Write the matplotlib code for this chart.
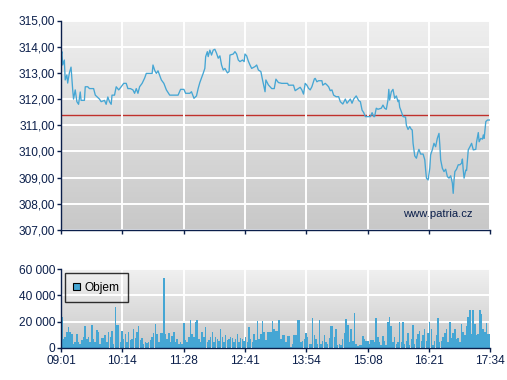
import numpy as np
import matplotlib
matplotlib.use("Agg")
import matplotlib.pyplot as plt
from matplotlib.patches import Patch
from matplotlib.ticker import FuncFormatter

plt.rcParams['font.family'] = ['Liberation Sans', 'DejaVu Sans']

# ---- data ----
tick_labels = ["09:01", "10:14", "11:28", "12:41", "13:54", "15:08", "16:21", "17:34"]

price_t = [0, 1, 2, 4, 5, 7, 8, 10, 12, 14, 15, 17, 19, 21, 23, 24, 28, 29, 32, 34,
           39, 41, 46, 48, 52, 54, 56, 58, 60, 61, 64, 66, 69, 72, 75, 78, 80, 83, 86, 88,
           90, 92, 94, 97, 100, 102, 109, 110, 112, 114, 116, 120, 123, 126, 130,
           132, 136, 140, 143, 147, 149, 154, 156, 159, 162, 164, 166, 168, 170, 172, 173,
           175, 176, 178, 180, 182, 184, 186, 188, 190, 192, 194, 196, 199, 201, 202, 206,
           208, 210, 212, 214, 217, 219, 220, 222, 224, 226, 228, 232, 234, 236, 239, 241,
           244, 245, 248, 252, 255, 257,
           260, 264, 268, 271, 272, 278, 280, 284, 286, 288, 290, 292, 294, 296, 298, 300,
           303, 304, 306, 308, 312, 313, 316, 318, 320, 322, 324, 326, 329, 332, 334, 337,
           340, 342, 346, 348, 350, 353, 356, 358, 360, 362, 364, 366, 370, 372, 374, 375,
           377, 379, 383, 385, 387, 389, 391, 392, 393, 395, 397, 399, 401, 403, 404, 405,
           407, 409, 412, 413, 415, 417, 419, 420, 421, 423, 425, 427, 428, 430, 433, 435,
           436, 437, 439, 441, 442, 444, 446, 448, 450, 452, 453, 454, 456, 458, 460, 462,
           464, 466, 468, 469, 470, 471, 473, 475, 477, 479, 480, 481, 482, 484, 485, 487,
           489, 491, 493, 496, 497, 499, 500, 502, 504, 505, 506, 508, 510, 513]

price = [313.62, 313.81, 313.30, 313.49, 312.73, 312.92, 312.61, 313.00, 313.22, 312.35,
         312.00, 312.35, 311.90, 311.80, 312.27, 311.95, 311.95, 312.47, 312.47, 312.40,
         312.40, 312.15, 312.00, 311.90, 311.95, 311.80, 312.08, 311.90, 311.80, 312.15,
         312.15, 312.47, 312.35, 312.47, 312.60, 312.60, 312.40, 312.40, 312.35, 312.22,
         312.40, 312.22, 312.47, 312.60, 312.80, 312.98, 312.98, 313.30, 313.10, 312.98,
         313.08, 312.73, 312.60, 312.35, 312.15,
         312.15, 312.15, 312.15, 312.37, 312.37, 312.22, 312.22, 312.28, 312.03, 312.12,
         312.40, 312.63, 312.80, 312.98, 313.17, 313.62, 313.81, 313.62, 313.87, 313.68,
         313.87, 313.90, 313.75, 313.56, 313.65, 313.30, 313.11, 313.17, 313.00, 313.05,
         313.68, 313.72, 313.81, 313.72, 313.49, 313.43, 313.49, 313.43, 313.72, 313.65,
         313.45, 313.30, 313.17, 313.24, 313.30, 313.11, 313.05, 312.73, 312.28, 312.73,
         312.54, 312.40, 312.40, 312.76,
         312.63, 312.60, 312.60, 312.60, 312.53, 312.53, 312.32, 312.41, 312.45, 312.35,
         312.19, 312.60, 312.53, 312.41, 312.35, 312.47, 312.77, 312.79, 312.66, 312.70,
         312.70, 312.53, 312.60, 312.54, 312.47, 312.32, 312.35, 312.15, 312.09, 312.09,
         311.90, 311.81, 312.00, 311.84, 312.00, 311.84, 312.00, 312.12, 311.94, 311.90,
         311.58, 311.48, 311.33, 311.33, 311.33, 311.48, 311.33, 311.33,
         311.65, 311.61, 311.65, 311.77, 311.65, 311.61, 311.96, 312.37, 311.96, 312.28,
         312.37, 312.03, 312.12, 311.90, 311.96, 311.69, 311.52, 311.33, 311.31, 311.00,
         310.84, 310.95, 310.84, 310.82, 310.31, 309.83, 309.74, 309.99, 310.08, 309.90,
         309.90, 309.68, 309.30, 308.98, 308.91, 309.36, 309.87, 310.06, 310.31, 310.18,
         310.50, 310.69, 310.25, 309.68, 309.36, 309.23, 309.32, 309.04, 308.98, 309.07,
         308.79, 308.40, 308.91, 309.23, 309.32, 309.49, 309.49, 309.55, 309.71, 309.29,
         308.98, 309.29, 309.27, 310.06, 310.18, 310.31, 310.06, 310.08, 310.37, 310.72,
         310.37, 310.50, 310.47, 310.63, 310.50, 311.14, 311.20, 311.20]

prev_close = 311.38

volume = [23500, 7100, 8300, 12100, 15900, 12100, 10900, 3300, 4600, 10900,
          4600, 3300, 5800, 8300, 16700, 7100, 8300, 4600, 17200, 7100,
          4600, 13400, 12100, 3300, 7600, 7600, 9600, 4600, 12100, 8300,
          12700, 3300, 31100, 17200, 17200, 4600, 12900, 7100, 10900, 4600,
          12100, 5800, 7100, 14700, 7600, 12100, 16700, 5800, 7600, 3300,
          4600, 4000, 4600, 5800, 8300, 11600, 18500, 10900, 4600, 11600,
          11600, 53100, 10900, 7100, 11600, 4600, 9100, 12100, 4600, 7100,
          3300, 4600, 3300, 19200, 5800, 4600, 8300, 21500, 10900, 8300,
          19700, 21500, 7100, 4600, 12100, 8300, 15900, 4600, 5800, 8300,
          12100, 4600, 8300, 7100, 5100, 14700, 8300, 4600, 9600, 5800,
          7100, 8300, 7600, 4600, 7100, 10900, 4600, 7600, 6600, 5100,
          8300, 4600, 15900, 7100, 4600, 10900, 5800, 20200, 6600, 10900,
          20200, 12100, 5800, 12100, 12100, 12100, 20200, 14700, 12700, 12700,
          21000, 7100, 9600, 9600, 4600, 9100, 9100, 800, 3300, 9600,
          9600, 21000, 21000, 4600, 5100, 7100, 11600, 8300, 3300, 3300,
          22800, 9600, 7100, 3300, 21000, 3300, 5100, 9600, 4600, 3300,
          7600, 16700, 16700, 8300, 14700, 2000, 3300, 2000, 7100, 11600,
          21800, 17200, 4600, 14700, 5100, 26800, 3300, 1500, 2000, 2000,
          9100, 7100, 5100, 5100, 3300, 5800, 5800, 4600, 22800, 8300,
          4600, 2000, 9100, 5100, 2000, 19700, 23500, 16700, 4600, 8300,
          3300, 4600, 19700, 4600, 19700, 3300, 5100, 11600, 2000, 7100,
          17200, 3300, 7100, 10900, 12700, 5100, 9600, 14700, 5100, 11600,
          19700, 14700, 2000, 5100, 9600, 22800, 4600, 5100, 8300, 11600,
          14200, 4600, 19700, 7600, 11600, 14700, 6600, 7600, 4600, 18500,
          12100, 9600, 16700, 23500, 28600, 10900, 28600, 18500, 9600, 10900,
          28600, 26100, 14700, 12100, 19200, 10900, 10900]
volume_interval = 2  # minutes between volume bars

# ---- style ----
navy = "#0b1f4b"
blue = "#45a6d4"
fs = 8.6


def to_min(s):
    h, m = s.split(":")
    return (int(h) - 9) * 60 + int(m) - 1


tick_pos = [to_min(s) for s in tick_labels]
t_end = tick_pos[-1]
vol_t = np.arange(len(volume)) * volume_interval

fig = plt.figure(figsize=(5.07, 3.80), dpi=100)
ax1 = fig.add_axes([61 / 507, 150 / 380, 429 / 507, 209.5 / 380])
ax2 = fig.add_axes([61 / 507, 32 / 380, 429 / 507, 79 / 380])


def style(ax, top_c, bot_c):
    grad = np.linspace(0, 1, 256).reshape(-1, 1)
    c0 = np.array(matplotlib.colors.to_rgb(top_c))
    c1 = np.array(matplotlib.colors.to_rgb(bot_c))
    img = c0[None, None, :] * (1 - grad[:, :, None]) + c1[None, None, :] * grad[:, :, None]
    ax.imshow(img, extent=[0, 1, 0, 1], transform=ax.transAxes, aspect='auto', zorder=0)
    ax.set_facecolor('none')
    for s in ['top', 'right']:
        ax.spines[s].set_visible(False)
    for s in ['left', 'bottom']:
        ax.spines[s].set_color(navy)
        ax.spines[s].set_linewidth(1.0)
        ax.spines[s].set_zorder(5)
    ax.grid(True, color='white', linewidth=1.4, zorder=1)
    ax.set_axisbelow(False)
    ax.tick_params(axis='both', colors=navy, labelcolor=navy, labelsize=fs,
                   length=3, width=1, direction='out')
    ax.tick_params(axis='y', pad=1)
    ax.tick_params(axis='x', pad=2)
    ax.set_xlim(0, t_end)
    ax.set_xticks(tick_pos)


style(ax1, "#efefef", "#c8c8c8")
style(ax2, "#f1f1f1", "#c9c9c9")

# price chart
ax1.plot(price_t, price, color=blue, linewidth=0.95, zorder=3)
ax1.axhline(prev_close, color="#c0302c", linewidth=1.0, zorder=2)
ax1.set_ylim(307, 315)
ax1.set_yticks(np.arange(307, 316, 1))
ax1.yaxis.set_major_formatter(FuncFormatter(lambda v, p: f"{v:.2f}".replace('.', ',')))
ax1.set_xticklabels([])
ax1.text(0.96, 0.078, "www.patria.cz", transform=ax1.transAxes, ha='right', va='center',
         fontsize=8.1, color=navy, zorder=4)

# volume chart
ax2.bar(vol_t, volume, width=1.8, align='edge', color=blue, linewidth=0, zorder=3)
ax2.set_ylim(0, 60000)
ax2.set_yticks([0, 20000, 40000, 60000])
ax2.yaxis.set_major_formatter(FuncFormatter(lambda v, p: f"{int(v):,}".replace(',', ' ')))
ax2.set_xticklabels(tick_labels)
leg = ax2.legend(handles=[Patch(facecolor=blue, edgecolor='black', linewidth=0.8, label='Objem')],
                 loc='upper left', bbox_to_anchor=(0.009, 0.945), frameon=True, fancybox=False,
                 edgecolor='black', facecolor='none', fontsize=fs, handlelength=0.6,
                 handleheight=0.6, handletextpad=0.35, borderpad=0.7, borderaxespad=0)
leg.get_frame().set_linewidth(1.0)
leg.set_zorder(6)

fig.savefig("out.png", dpi=100)
